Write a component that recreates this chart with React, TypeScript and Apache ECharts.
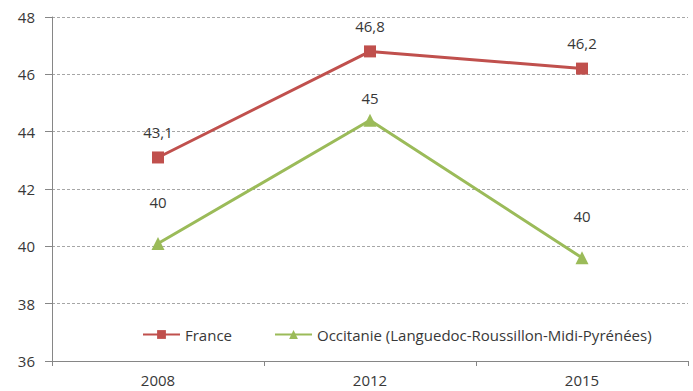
import React, { useEffect, useRef } from "react";
import * as echarts from "echarts";

const categories = ["2008", "2012", "2015"];
const franceValues = [43.1, 46.8, 46.2];
const franceLabels = ["43,1", "46,8", "46,2"];
const occitanieValues = [40.1, 44.4, 39.6];
const occitanieLabels = ["40", "45", "40"];
const seriesNames = ["France", "Occitanie (Languedoc-Roussillon-Midi-Pyrénées)"];

const FONT = "'Open Sans', 'Liberation Sans', sans-serif";
const TEXT = "#383838";

export default function App() {
  const ref = useRef<HTMLDivElement>(null);
  useEffect(() => {
    if (!ref.current) return;
    const chart = echarts.init(ref.current, undefined, { renderer: "svg" });
    const franceDist = [12, 12, 12];
    const occDist = [27, 8, 28];
    chart.setOption({
      animation: false,
      backgroundColor: "#ffffff",
      grid: { left: 52, right: 5, top: 17, bottom: 30 },
      legend: {
        left: 137,
        top: 322,
        itemWidth: 37,
        itemHeight: 11,
        itemGap: 42,
        textStyle: { fontFamily: FONT, fontSize: 15, color: TEXT },
        data: seriesNames,
      },
      xAxis: {
        type: "category",
        data: categories,
        boundaryGap: true,
        axisLine: { lineStyle: { color: "#868686", width: 1 } },
        axisTick: { show: true, length: 5, lineStyle: { color: "#868686" } },
        axisLabel: { fontFamily: FONT, fontSize: 15, color: TEXT, margin: 11 },
      },
      yAxis: {
        type: "value",
        min: 36,
        max: 48,
        interval: 2,
        axisLine: { show: true, lineStyle: { color: "#868686", width: 1 } },
        axisTick: { show: true, length: 7, lineStyle: { color: "#868686" } },
        axisLabel: { fontFamily: FONT, fontSize: 15, color: TEXT, margin: 17 },
        splitLine: { lineStyle: { color: "#a6a6a6", type: [3, 2], width: 1 } },
      },
      series: [
        {
          name: seriesNames[0],
          type: "line",
          symbol: "rect",
          symbolSize: 12,
          color: "#c0504d",
          lineStyle: { width: 3, color: "#c0504d" },
          itemStyle: { color: "#c0504d" },
          data: franceValues.map((v, i) => ({
            value: v,
            label: { distance: franceDist[i] },
          })),
          label: {
            show: true,
            position: "top",
            fontFamily: FONT,
            fontSize: 15,
            color: TEXT,
            formatter: (p: any) => franceLabels[p.dataIndex],
          },
        },
        {
          name: seriesNames[1],
          type: "line",
          symbol: "triangle",
          symbolSize: 13,
          color: "#9bbb59",
          lineStyle: { width: 3, color: "#9bbb59" },
          itemStyle: { color: "#9bbb59" },
          data: occitanieValues.map((v, i) => ({
            value: v,
            label: { distance: occDist[i] },
          })),
          label: {
            show: true,
            position: "top",
            fontFamily: FONT,
            fontSize: 15,
            color: TEXT,
            formatter: (p: any) => occitanieLabels[p.dataIndex],
          },
        },
      ],
    });
    return () => chart.dispose();
  }, []);
  return <div ref={ref} style={{ width: 693, height: 391, position: "fixed", left: 0, top: 0 }} />;
}
